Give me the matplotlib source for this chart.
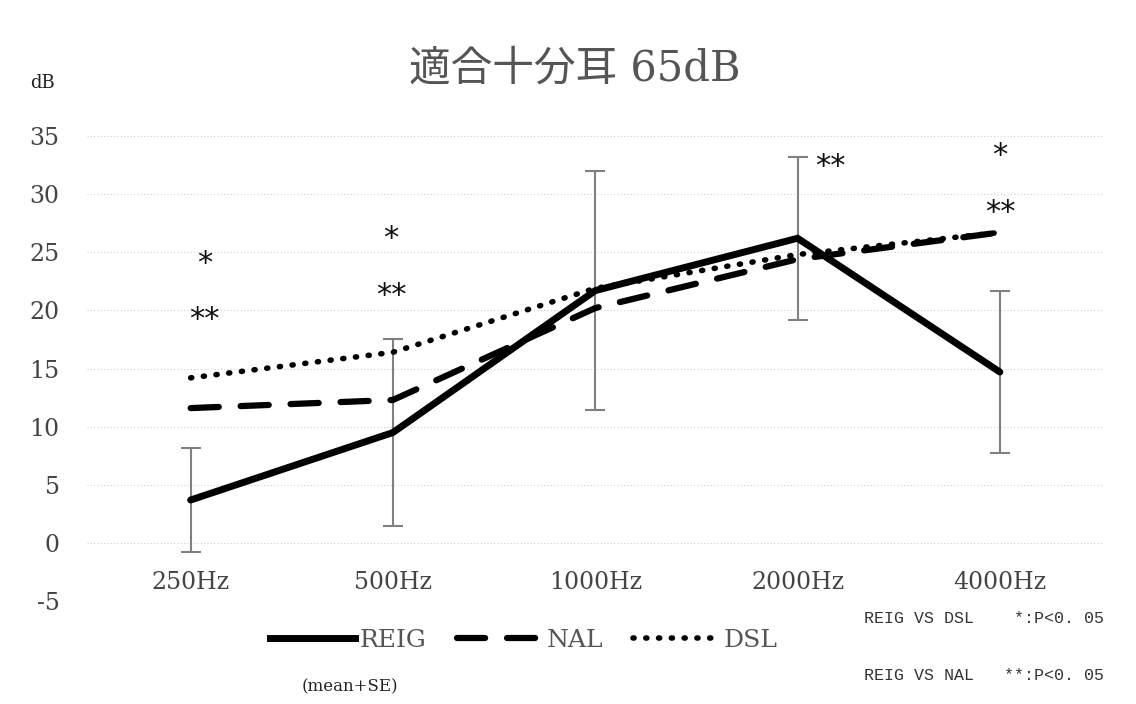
import matplotlib.pyplot as plt
import numpy as np
from matplotlib.lines import Line2D

plt.rcParams['font.family'] = ['DejaVu Serif', 'Noto Sans CJK JP']
plt.rcParams['axes.unicode_minus'] = False

freqs = ['250Hz', '500Hz', '1000Hz', '2000Hz', '4000Hz']
reig = [3.7, 9.5, 21.7, 26.2, 14.7]
reig_se = [4.5, 8.0, 10.3, 7.0, 7.0]
nal = [11.6, 12.3, 20.2, 24.4, 26.7]
dsl = [14.2, 16.4, 21.9, 24.8, 26.7]

# significance marks: (category index, y, text)
marks = [(0, 24.0, '*'), (0, 19.2, '**'),
         (1, 26.2, '*'), (1, 21.3, '**'),
         (3, 32.4, '**'),
         (4, 33.3, '*'), (4, 28.4, '**')]
mark_dx = [0.07, 0.07, -0.01, -0.01, 0.16, 0.0, 0.0]

x = np.arange(len(freqs))

dot_style = (0, (0.2, 2.1))
dash_style = (0, (4.5, 3.5))

fig = plt.figure(figsize=(11.36, 7.04), dpi=100)
ax = fig.add_axes([0.077, 0.146, 0.894, 0.661])

ax.errorbar(x, reig, yerr=reig_se, fmt='none', ecolor='#808080',
            elinewidth=1.5, capsize=7, capthick=1.5, zorder=2)
ax.plot(x, dsl, color='black', lw=4, linestyle=dot_style,
        dash_capstyle='round', zorder=3)
ax.plot(x, nal, color='black', lw=4.5, linestyle=dash_style,
        dash_capstyle='round', zorder=3)
ax.plot(x, reig, color='black', lw=5, solid_capstyle='round',
        solid_joinstyle='miter', zorder=4)

for (i, y, t), dx in zip(marks, mark_dx):
    ax.text(x[i] + dx, y, t, ha='center', va='center', fontsize=22,
            family='DejaVu Sans', color='#111111')

ax.set_xlim(-0.51, 4.51)
ax.set_ylim(-5, 35)
ax.set_yticks(np.arange(-5, 36, 5))
ax.set_xticks(x)
ax.set_xticklabels(freqs)
ax.spines['bottom'].set_position(('data', 0))
for s in ax.spines.values():
    s.set_visible(False)
ax.tick_params(axis='x', length=0, pad=20, labelsize=17, colors='#444444')
ax.tick_params(axis='y', length=0, pad=20, labelsize=17, colors='#444444')
ax.grid(axis='y', color='#d0d0d0', lw=0.8, linestyle=(0, (1, 2)))
ax.set_axisbelow(True)

fig.text(0.506, 0.903, '適合十分耳 65dB', ha='center', va='center',
         fontsize=30, color='#555555')
fig.text(0.037, 0.882, 'dB', ha='center', va='center', fontsize=13,
         color='#222222')

handles = [Line2D([], [], color='black', lw=5),
           Line2D([], [], color='black', lw=4.5, linestyle=dash_style,
                  dash_capstyle='round'),
           Line2D([], [], color='black', lw=4, linestyle=dot_style,
                  dash_capstyle='round')]
leg = fig.legend(handles, ['REIG', 'NAL', 'DSL'], loc='center',
                 bbox_to_anchor=(0.461, 0.09), ncol=3, frameon=False,
                 fontsize=18, handlelength=3.4, handletextpad=0.2,
                 columnspacing=1.2)
for t in leg.get_texts():
    t.set_color('#555555')

fig.text(0.308, 0.025, '(mean+SE)', ha='center', va='center', fontsize=12,
         color='#222222')
fig.text(0.761, 0.122, 'REIG VS DSL    *:P<0. 05', ha='left', va='center',
         fontsize=12, family='Liberation Mono', color='#333333')
fig.text(0.761, 0.040, 'REIG VS NAL   **:P<0. 05', ha='left', va='center',
         fontsize=12, family='Liberation Mono', color='#333333')

fig.savefig('out.png', dpi=100)
